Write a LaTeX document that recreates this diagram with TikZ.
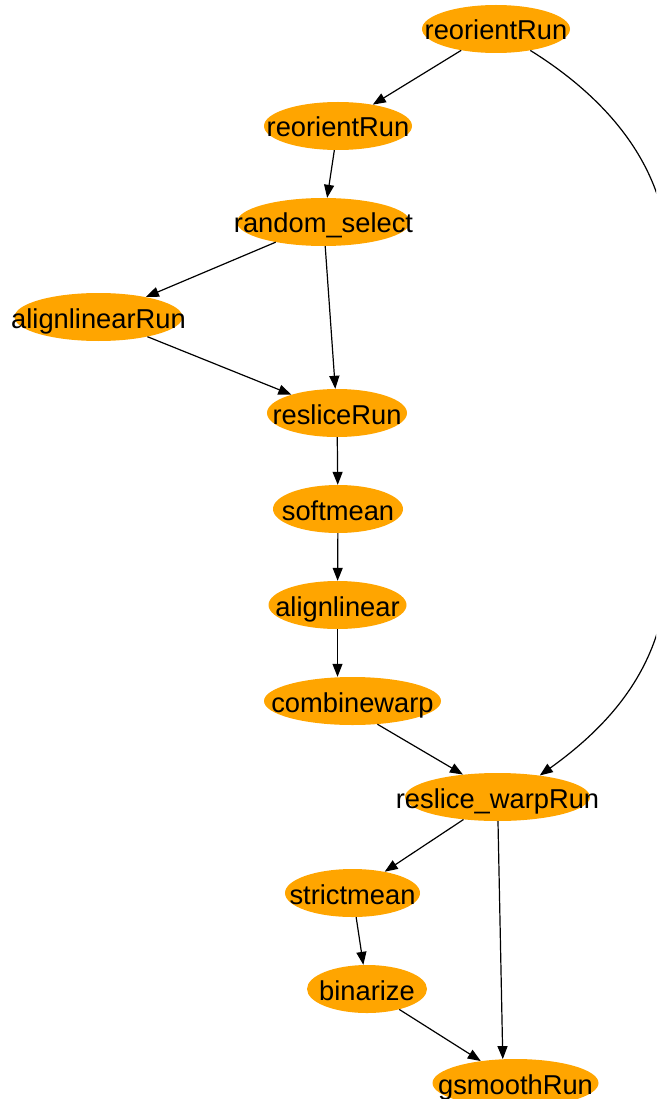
\documentclass[tikz,border=0pt]{standalone}
\usepackage{fontspec}
\setmainfont{Liberation Sans}
\usetikzlibrary{shapes.geometric,arrows.meta}
\definecolor{procfill}{HTML}{FFA500}
\begin{document}
\begin{tikzpicture}[x=1pt,y=-1pt,
  proc/.style={ellipse, fill=procfill, inner sep=0pt, minimum height=48pt,
    text height=22pt, text depth=0pt, font=\fontsize{27.3}{30}\selectfont},
  flow/.style={-{Triangle[length=13pt,width=10pt]}, line width=1.2pt},
]
\useasboundingbox (0,0) rectangle (656,1099);
\clip (0,0) rectangle (656,1099);

% processing steps
\node[proc, minimum width=148pt] (r1)  at (496,29)    {\makebox[0pt]{reorientRun}};
\node[proc, minimum width=148pt] (r2)  at (338,126)   {\makebox[0pt]{reorientRun}};
\node[proc, minimum width=173pt] (rs)  at (323.5,222) {\makebox[0pt]{random\_select}};
\node[proc, minimum width=168pt] (al)  at (98.5,317)  {\makebox[0pt]{alignlinearRun}};
\node[proc, minimum width=140pt] (re)  at (337,413)   {\makebox[0pt]{resliceRun}};
\node[proc, minimum width=130pt] (sm)  at (338,509)   {\makebox[0pt]{softmean}};
\node[proc, minimum width=138pt] (aln) at (337.5,605) {\makebox[0pt]{alignlinear}};
\node[proc, minimum width=177pt] (cw)  at (352.5,701) {\makebox[0pt]{combinewarp}};
\node[proc, minimum width=185pt] (rw)  at (497.5,797) {\makebox[0pt]{reslice\_warpRun}};
\node[proc, minimum width=135pt] (st)  at (352.5,893) {\makebox[0pt]{strictmean}};
\node[proc, minimum width=120pt] (bi)  at (367,989)   {\makebox[0pt]{binarize}};
\node[proc, minimum width=166pt] (gs)  at (515.5,1083){\makebox[0pt]{gsmoothRun}};

% dependencies
\draw[flow] (r1) -- (r2);
\draw[flow] (r2) -- (rs);
\draw[flow] (rs) -- (al);
\draw[flow] (rs) -- (re);
\draw[flow] (al) -- (re);
\draw[flow] (re) -- (sm);
\draw[flow] (sm) -- (aln);
\draw[flow] (aln.south) -- (aln.south |- cw.north);
\draw[flow] (cw.-43) -- (rw.147);
\draw[flow] (rw) -- (st);
\draw[flow] (rw) -- (gs.118);
\draw[flow] (st) -- (bi);
\draw[flow] (bi) -- (gs);
\draw[flow] (r1.-32) .. controls (610,100) and (668,170) .. (668,260)
  -- (668,560) .. controls (668,655) and (620,718) .. (rw.27);
\end{tikzpicture}
\end{document}
